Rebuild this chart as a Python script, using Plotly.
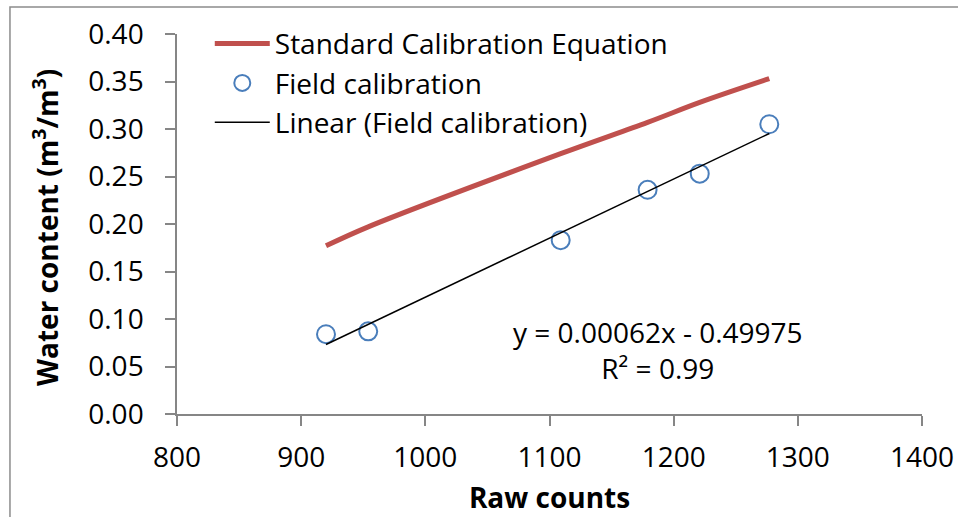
import numpy as np
import plotly.graph_objects as go

# Field calibration data
raw_counts = [920, 954, 1109, 1179, 1221, 1277]
field_wc = [0.084, 0.087, 0.183, 0.236, 0.253, 0.305]
# Standard calibration equation evaluated at the same raw counts
standard_wc = [0.177, 0.197, 0.274, 0.307, 0.328, 0.353]

x_ticks = [800, 900, 1000, 1100, 1200, 1300, 1400]
y_ticks = [0.00, 0.05, 0.10, 0.15, 0.20, 0.25, 0.30, 0.35, 0.40]

slope, intercept = np.polyfit(raw_counts, field_wc, 1)
trend_x = [min(raw_counts), max(raw_counts)]
trend_y = [slope * v + intercept for v in trend_x]

FONT = "Open Sans"
FS = 28
AXIS_COLOR = "#868686"

fig = go.Figure()
fig.add_trace(go.Scatter(
    x=raw_counts, y=standard_wc, mode="lines",
    line=dict(color="#c0504d", width=5, shape="spline"),
    name="Standard Calibration Equation"))
fig.add_trace(go.Scatter(
    x=raw_counts, y=field_wc, mode="markers",
    marker=dict(symbol="circle-open", size=18, color="#4a7ebb", line=dict(width=2, color="#4a7ebb")),
    name="Field calibration"))
fig.add_trace(go.Scatter(
    x=trend_x, y=trend_y, mode="lines",
    line=dict(color="black", width=1.5),
    name="Linear (Field calibration)"))

fig.add_annotation(x=1187, y=0.067, xref="x", yref="y",
                   text="y = 0.00062x - 0.49975<br>R² = 0.99",
                   showarrow=False, align="center",
                   font=dict(family=FONT, size=FS, color="black"))

# y axis title
fig.add_annotation(x=-0.1755, y=0.49, xref="paper", yref="paper",
                   text="<b>Water content (m<sup>3</sup>/m<sup>3</sup>)</b>",
                   textangle=-90, showarrow=False, xanchor="center", yanchor="middle",
                   font=dict(family=FONT, size=FS, color="black"))

# chart border (Excel chart area)
fig.add_shape(type="rect", xref="paper", yref="paper",
              x0=-0.2242, x1=1.3, y0=-0.5, y1=1.0711,
              line=dict(color="#8c8c8c", width=1.5), fillcolor="rgba(0,0,0,0)")

fig.update_layout(
    width=958, height=517,
    margin=dict(l=177, r=36, t=34, b=103, pad=0, autoexpand=False),
    paper_bgcolor="white", plot_bgcolor="white",
    font=dict(family=FONT, size=FS, color="black"),
    showlegend=True,
    legend=dict(x=0.044, y=1.04, xanchor="left", yanchor="top",
                bgcolor="rgba(0,0,0,0)", font=dict(size=FS),
                itemwidth=55, tracegroupgap=0),
    xaxis=dict(range=[800, 1400], tickvals=x_ticks, ticktext=[str(v) for v in x_ticks],
               automargin=False,
               showgrid=False, zeroline=False, showline=True, linecolor=AXIS_COLOR, linewidth=1.5,
               ticks="outside", ticklen=10, tickwidth=1.5, tickcolor=AXIS_COLOR,
               tickfont=dict(size=FS), ticklabelstandoff=8,
               title=dict(text="<b>Raw counts</b>", font=dict(size=FS), standoff=14)),
    yaxis=dict(range=[0, 0.4], tickvals=y_ticks, ticktext=[f"{v:.2f}" for v in y_ticks],
               automargin=False,
               showgrid=False, zeroline=False, showline=True, linecolor=AXIS_COLOR, linewidth=1.5,
               ticks="outside", ticklen=10, tickwidth=1.5, tickcolor=AXIS_COLOR,
               tickfont=dict(size=FS), ticklabelstandoff=16),
)

fig.write_html(
    "out.html",
    config={"displayModeBar": False},
    post_script="document.body.style.margin='0';document.body.style.overflow='hidden';",
)
